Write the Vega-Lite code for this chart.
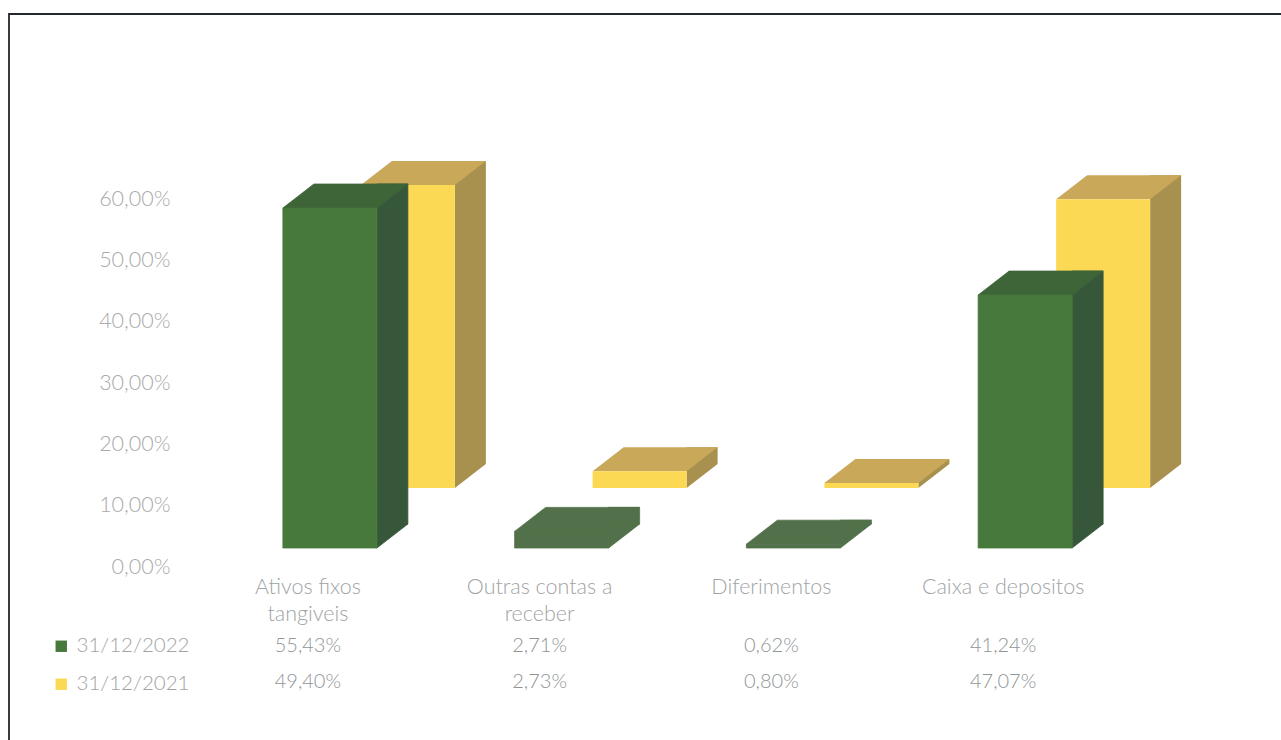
{
"$schema":"https://vega.github.io/schema/vega-lite/v6.json",
"width":1280,"height":730,
"autosize":{"type":"none"},
"padding":{"left":9,"top":14,"right":0,"bottom":0},
"background":"#ffffff",
"config":{"view":{"stroke":"#23272e","strokeWidth":1.8},"font":"Lato"},
"datasets":{
"bars":[
{"category":"Ativos fixos tangiveis","series":"31/12/2022","value":55.43,"label":"55,43%"},
{"category":"Outras contas a receber","series":"31/12/2022","value":2.71,"label":"2,71%"},
{"category":"Diferimentos","series":"31/12/2022","value":0.62,"label":"0,62%"},
{"category":"Caixa e depositos","series":"31/12/2022","value":41.24,"label":"41,24%"},
{"category":"Ativos fixos tangiveis","series":"31/12/2021","value":49.40,"label":"49,40%"},
{"category":"Outras contas a receber","series":"31/12/2021","value":2.73,"label":"2,73%"},
{"category":"Diferimentos","series":"31/12/2021","value":0.80,"label":"0,80%"},
{"category":"Caixa e depositos","series":"31/12/2021","value":47.07,"label":"47,07%"}
],
"heads":[
{"category":"Ativos fixos tangiveis","head":"Ativos fixos\ntangiveis"},
{"category":"Outras contas a receber","head":"Outras contas a\nreceber"},
{"category":"Diferimentos","head":"Diferimentos"},
{"category":"Caixa e depositos","head":"Caixa e depositos"}
]},
"encoding":{
"x":{"field":"category","type":"nominal","axis":null,"sort":null,
"scale":{"type":"band","domain":["Ativos fixos tangiveis","Outras contas a receber","Diferimentos","Caixa e depositos"],"range":[205,1132]}}
},
"layer":[
{"data":{"name":"bars"},
"encoding":{"y":{"field":"value","type":"quantitative","stack":null,
"scale":{"domain":[0,60],"range":[534,166],"nice":false,"zero":true},
"axis":{"title":null,"grid":false,"domain":false,"ticks":false,"values":[0,10,20,30,40,50,60],"offset":-161,"labelPadding":0,"labelOffset":19,"labelFontSize":21.5,"labelFont":"Lato","labelFontWeight":300,"labelColor":"#a9a9a9","labelExpr":"replace(format(datum.value,'.2f'),'.',',')+'%'"}}},
"layer":[
{"transform":[{"filter":"datum.series=='31/12/2021'"}],
"layer":[
{"mark":{"type":"bar","width":31,"xOffset":140.5,"yOffset":-84,"y2Offset":-84,"color":"#a8914f"},"encoding":{"y2":{"datum":0}}},
{"mark":{"type":"point","filled":true,"opacity":1,"size":4,"strokeWidth":0,"xOffset":78,"yOffset":-60,"color":"#a8914f","shape":"M47,0 L78,-24 L47,-24 Z"},"encoding":{"y":{"datum":0}}},
{"mark":{"type":"point","filled":true,"opacity":1,"size":4,"strokeWidth":0,"xOffset":78,"yOffset":-60,"color":"#c9a85a","shape":"M-47,0 L47,0 L78,-24 L-16,-24 Z"}},
{"mark":{"type":"bar","width":94,"xOffset":78,"yOffset":-60,"y2Offset":-60},"encoding":{"y2":{"datum":0},"color":{"field":"series","type":"nominal","scale":{"domain":["31/12/2022","31/12/2021"],"range":["#47783c","#fcd955"]},
"legend":{"orient":"none","legendX":42,"legendY":622,"title":null,"symbolType":"square","symbolSize":130,"symbolStrokeWidth":0,"symbolOpacity":1,"labelFontSize":20.5,"labelFont":"Lato","labelFontWeight":300,"labelColor":"#a0a4a6","rowPadding":17,"labelOffset":5}}}}
]},
{"transform":[{"filter":"datum.series=='31/12/2022'"}],
"layer":[
{"mark":{"type":"bar","width":31,"xOffset":62.5,"yOffset":-24,"y2Offset":-24,"strokeWidth":0.8},"encoding":{"y2":{"datum":0},"fill":{"condition":{"test":"datum.value<5","value":"#52714a"},"value":"#37573a"},"stroke":{"condition":{"test":"datum.value<5","value":"#52714a"},"value":"#37573a"}}},
{"mark":{"type":"point","filled":true,"opacity":1,"size":4,"strokeWidth":0.8,"shape":"M47,0 L78,-24 L47,-24 Z"},"encoding":{"y":{"datum":0},"fill":{"condition":{"test":"datum.value<5","value":"#52714a"},"value":"#37573a"},"stroke":{"condition":{"test":"datum.value<5","value":"#52714a"},"value":"#37573a"}}},
{"mark":{"type":"point","filled":true,"opacity":1,"size":4,"strokeWidth":0.8,"shape":"M-47,0 L47,0 L78,-24 L-16,-24 Z"},"encoding":{"fill":{"condition":{"test":"datum.value<5","value":"#52714a"},"value":"#3e6537"},"stroke":{"condition":{"test":"datum.value<5","value":"#52714a"},"value":"#3e6537"}}},
{"mark":{"type":"bar","width":94,"strokeWidth":0.8},"encoding":{"y2":{"datum":0},"color":{"condition":{"test":"datum.value<5","value":"#52714a"},"field":"series","type":"nominal"},"stroke":{"condition":{"test":"datum.value<5","value":"#52714a"},"value":"#47783c"}}}
]}
]},
{"layer":[
{"data":{"name":"bars"},
"mark":{"type":"text","font":"Lato","fontSize":20,"fontWeight":300,"color":"#8f9698","xOffset":-22,"align":"center","baseline":"middle"},
"encoding":{"y":{"field":"series","type":"nominal","axis":null,"scale":{"type":"point","domain":["31/12/2022","31/12/2021"],"range":[632,668],"padding":0}},"text":{"field":"label"}}},
{"data":{"name":"heads"},
"mark":{"type":"text","font":"Lato","fontSize":21.5,"fontWeight":300,"color":"#a0a4a6","xOffset":-22,"yOffset":-69,"align":"center","baseline":"top","lineBreak":"\n","lineHeight":27},
"encoding":{"y":{"datum":"31/12/2022","type":"nominal"},"text":{"field":"head"}}}
]}
],
"resolve":{"scale":{"y":"independent"}}
}
